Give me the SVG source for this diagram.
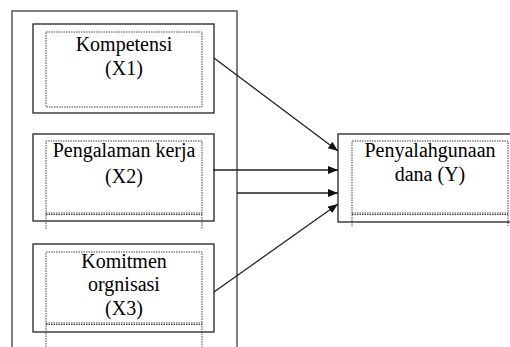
<svg xmlns="http://www.w3.org/2000/svg" width="510" height="347" viewBox="0 0 510 347">
<style>
.box{fill:#fff;stroke:#222;stroke-width:1.3}
.dot{fill:none;stroke:#444;stroke-width:1;stroke-dasharray:1.5 1}
.t{font-family:"Liberation Serif","Times New Roman",serif;font-size:20px;fill:#000;text-anchor:middle}
.c{stroke:#222;stroke-width:1.3;fill:none}
</style>
<defs>
<marker id="ah" viewBox="0 0 10 8" refX="10" refY="4" markerWidth="10" markerHeight="8" markerUnits="userSpaceOnUse" orient="auto">
<path d="M0,0 L10,4 L0,8 Z" fill="#111"/>
</marker>
</defs>
<rect width="510" height="347" fill="#fff"/>
<g id="outer">
<path d="M12,360 V11 H237 V360" fill="#fff" stroke="#555" stroke-width="1.5"/>
</g>
<g id="n1">
<rect class="box" x="33" y="24" width="181" height="89"/>
<rect class="dot" x="46" y="32" width="156" height="75"/>
<text class="t" x="124" y="51">Kompetensi</text>
<text class="t" x="124" y="75">(X1)</text>
</g>
<g id="n2">
<rect class="box" x="33" y="134" width="181" height="87"/>
<path class="dot" d="M46,229 V141 H202 V229 M46,213 H202 M46,214.5 H202"/>
<text class="t" x="124" y="157">Pengalaman kerja</text>
<text class="t" x="124" y="183">(X2)</text>
</g>
<g id="n3">
<rect class="box" x="33" y="244" width="181" height="88"/>
<path class="dot" d="M46,347 V252 H202 V347 M46,323 H202 M46,324.5 H202"/>
<text class="t" x="124" y="268">Komitmen</text>
<text class="t" x="124" y="291">orgnisasi</text>
<text class="t" x="124" y="315">(X3)</text>
</g>
<g id="ny">
<rect class="box" x="338" y="134" width="180" height="88"/>
<path class="dot" d="M352,226 V141 H508 V226 M352,213 H508 M352,214.5 H508"/>
<text class="t" x="430" y="157">Penyalahgunaan</text>
<text class="t" x="430" y="181">dana (Y)</text>
</g>
<g id="connectors">
<line class="c" x1="214" y1="58" x2="338" y2="151" marker-end="url(#ah)"/>
<line class="c" x1="213" y1="170" x2="338" y2="170" marker-end="url(#ah)"/>
<line class="c" x1="237" y1="193" x2="338" y2="193" stroke="#555" marker-end="url(#ah)"/>
<line class="c" x1="214" y1="292" x2="338" y2="204" marker-end="url(#ah)"/>
</g>
</svg>
